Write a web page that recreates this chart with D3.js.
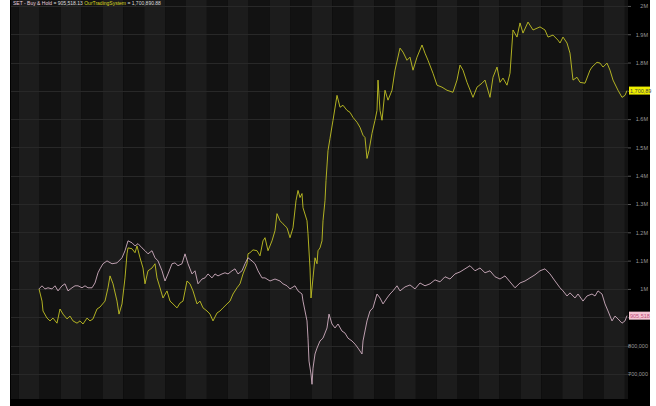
<!DOCTYPE html>
<html>
<head>
<meta charset="utf-8">
<script src="https://cdn.jsdelivr.net/npm/d3@7"></script>
<style>
  body { margin: 0; background: #ffffff; }
  svg { display: block; font-family: "Liberation Sans", Arial, sans-serif; }
</style>
</head>
<body>
<div id="chart"></div>
<script>
// trading days from start, values in thousands
var tsDays = [0,3,4,8,11,14,18,21,24,28,
  31,34,38,41,44,48,51,54,58,61,
  66,69,71,74,78,80,83,86,88,89,
  93,96,98,101,104,106,109,113,116,118,
  121,124,128,131,134,138,141,144,148,151,
  154,158,161,164,168,171,174,178,181,184,
  188,191,194,198,201,204,208,209,211,214,
  218,221,224,226,229,233,236,238,241,244,
  248,251,254,257,259,261,263,264,268,269,
  271,272,274,276,278,279,281,283,284,286,
  287,289,291,294,298,301,304,308,311,314,
  318,321,324,326,328,330,333,336,338,339,
  341,343,346,349,353,356,361,364,368,371,
  374,378,383,386,389,394,398,403,408,414,
  418,421,424,428,434,438,443,446,451,454,
  458,461,464,468,471,474,478,481,484,489,
  494,501,506,509,514,519,521,524,528,531,
  534,538,541,546,551,553,558,561,564,568,
  571,574,579,583,586,588];
var tsValues = [1000,957,922,897,887,897,879,929,911,894,
  904,887,879,887,876,897,887,894,929,936,
  957,1004,1046,1018,957,911,947,1039,1124,1145,
  1142,1128,1152,1110,1074,1018,1064,1074,1089,1039,
  1004,968,993,957,947,933,950,957,1028,1018,
  993,947,957,933,922,911,887,915,922,933,
  947,957,982,1004,1018,1053,1089,1124,1128,1138,
  1135,1117,1170,1181,1135,1170,1206,1266,1241,1230,
  1216,1181,1216,1312,1348,1323,1337,1287,1241,1195,
  1074,968,1039,1110,1089,1135,1145,1170,1241,1312,
  1383,1489,1532,1596,1684,1642,1649,1631,1624,1606,
  1589,1571,1543,1535,1461,1489,1550,1596,1631,1738,
  1631,1596,1702,1667,1702,1773,1851,1837,1808,1819,
  1773,1819,1862,1833,1808,1762,1720,1713,1702,1695,
  1738,1791,1773,1730,1677,1713,1727,1738,1677,1748,
  1784,1730,1745,1720,1762,1915,1890,1940,1904,1943,
  1915,1926,1915,1890,1897,1879,1869,1890,1869,1833,
  1738,1748,1730,1727,1773,1784,1801,1798,1784,1798,
  1773,1738,1702,1677,1684,1700.89];

var bhDays = [0,3,6,9,13,16,19,23,26,29,
  33,36,39,43,46,49,53,56,59,61,
  64,68,73,78,83,86,89,93,96,99,
  103,106,109,113,116,119,123,126,129,133,
  136,139,143,146,149,153,156,159,163,166,
  169,173,176,179,183,186,189,193,196,199,
  203,206,209,213,216,219,223,226,231,236,
  241,244,248,251,256,259,263,264,266,268,
  269,270,272,273,274,276,278,281,284,288,
  290,293,296,299,303,306,309,313,316,319,
  323,324,328,331,334,338,341,344,348,351,
  354,358,361,366,371,376,381,386,391,396,
  401,406,411,416,421,426,431,436,441,446,
  451,456,461,466,471,476,481,486,491,496,
  501,506,511,516,521,524,528,531,536,539,
  544,548,553,556,559,563,566,569,573,576,
  579,583,586,588];
var bhValues = [1000,1011,1000,1004,1000,1011,993,1011,1018,993,
  1004,1011,1011,1004,1011,1004,1004,1021,1057,1071,
  1089,1099,1089,1092,1110,1135,1170,1163,1152,1160,
  1145,1135,1124,1135,1110,1099,1064,1028,1053,1089,
  1092,1082,1089,1124,1089,1053,1064,1018,1035,1039,
  1053,1039,1053,1046,1053,1057,1053,1064,1071,1053,
  1064,1089,1110,1099,1089,1064,1039,1039,1028,1035,
  1028,1018,1011,1000,1011,993,982,957,922,887,
  826,745,699,663,720,770,791,816,826,862,
  911,876,862,876,851,844,826,816,805,791,
  770,816,887,922,933,982,968,947,968,982,
  993,1011,993,1007,1014,1000,1021,1011,1018,1032,
  1025,1043,1035,1053,1060,1071,1082,1064,1074,1057,
  1064,1043,1035,1046,1025,1004,1021,1028,1039,1050,
  1064,1071,1053,1028,1004,993,975,986,968,982,
  957,975,982,975,993,982,947,922,887,904,
  894,879,887,905.518];

var yTicks = [700,800,900,1000,1100,1200,1300,1400,1500,1600,1700,1800,1900,2000];
var bhName = "SET - Buy & Hold";
var tsName = "OurTradingSystem";
var bhLast = 905518.13;
var tsLast = 1700890.88;

var svgWidth = 656;
var svgHeight = 406;
var plot = {left: 11, right: 628, top: 0, bottom: 399};
var monthLen = 20.9;

var svg = d3.select("#chart")
  .append("svg")
  .attr("width", svgWidth)
  .attr("height", svgHeight);

var xScale = d3.scaleLinear().domain([-28, 589]).range([plot.left, plot.right]);
var yScale = d3.scaleLinear().domain([611, 2021]).range([plot.bottom, plot.top]);

// black panel
svg.append("rect")
  .attr("x", 10).attr("y", 0)
  .attr("width", 640).attr("height", svgHeight)
  .attr("fill", "#000");

svg.append("defs").append("clipPath").attr("id", "clip")
  .append("rect")
  .attr("x", plot.left).attr("y", plot.top)
  .attr("width", plot.right - plot.left).attr("height", plot.bottom - plot.top);

var chartGroup = svg.append("g").attr("clip-path", "url(#clip)");

// month stripes
var bands = d3.range(-2, 29);
chartGroup.selectAll("rect.band")
  .data(bands)
  .enter()
  .append("rect")
  .attr("class", "band")
  .attr("x", k => xScale(0.7 + k * monthLen))
  .attr("y", plot.top)
  .attr("width", xScale(monthLen) - xScale(0))
  .attr("height", plot.bottom - plot.top)
  .attr("fill", k => (k % 2 === 0) ? "#121212" : "#1c1c1c");

// horizontal grid
chartGroup.selectAll("line.grid")
  .data(yTicks)
  .enter()
  .append("line")
  .attr("x1", plot.left).attr("x2", plot.right)
  .attr("y1", d => Math.round(yScale(d)) + 0.5)
  .attr("y2", d => Math.round(yScale(d)) + 0.5)
  .attr("stroke", "#282828")
  .attr("stroke-width", 1);

var line = d3.line()
  .x(d => xScale(d[0]))
  .y(d => yScale(d[1]));

chartGroup.append("path")
  .datum(tsDays.map((d, i) => [d, tsValues[i]]))
  .attr("d", line)
  .attr("fill", "none")
  .attr("stroke", "#c2c224")
  .attr("stroke-width", 0.9);

chartGroup.append("path")
  .datum(bhDays.map((d, i) => [d, bhValues[i]]))
  .attr("d", line)
  .attr("fill", "none")
  .attr("stroke", "#cfaec0")
  .attr("stroke-width", 0.9);

// right axis, labels under the value tags are hidden like in the source
var tsY = yScale(tsLast / 1000);
var bhY = yScale(bhLast / 1000);
var fmt = function(v) {
  var y = yScale(v);
  if (Math.abs(y - tsY) < 6 || Math.abs(y - bhY) < 6) return "";
  return v >= 1000 ? d3.format("")(v / 1000) + "M" : d3.format(",")(v * 1000);
};
var rightAxis = d3.axisRight(yScale)
  .tickValues(yTicks)
  .tickFormat(fmt)
  .tickSize(3)
  .tickPadding(2);

var yAxis = svg.append("g")
  .attr("transform", `translate(${plot.right}, 0)`)
  .call(rightAxis);
yAxis.select(".domain").remove();
yAxis.selectAll("line").attr("stroke", "#555");
yAxis.selectAll("text")
  .attr("x", 20)
  .attr("text-anchor", "end")
  .attr("fill", "#9a9a9a")
  .attr("font-size", "5.5px");

// last value tags
function lastTag(y, text, fill, color) {
  svg.append("rect")
    .attr("x", plot.right + 1).attr("y", y - 4)
    .attr("width", 21).attr("height", 8)
    .attr("fill", fill);
  svg.append("text")
    .attr("x", plot.right + 2).attr("y", y + 2)
    .attr("font-size", "5.5px")
    .attr("fill", color)
    .text(text);
}
lastTag(tsY, d3.format(",")(Math.floor(tsLast)).slice(0, 8), "#eeee00", "#444");
lastTag(bhY, d3.format(",")(Math.floor(bhLast)), "#f5c4d4", "#c0507a");

// legend line at top
var legend = svg.append("text")
  .attr("x", 13).attr("y", 4.5)
  .attr("font-size", "5px");
legend.append("tspan").attr("fill", "#e8d0dc").text(bhName);
legend.append("tspan").attr("fill", "#dddddd").text(" = " + d3.format(",.2f")(bhLast) + "  ");
legend.append("tspan").attr("fill", "#d8d820").text(tsName);
legend.append("tspan").attr("fill", "#dddddd").text(" = " + d3.format(",.2f")(tsLast));
</script>
</body>
</html>
